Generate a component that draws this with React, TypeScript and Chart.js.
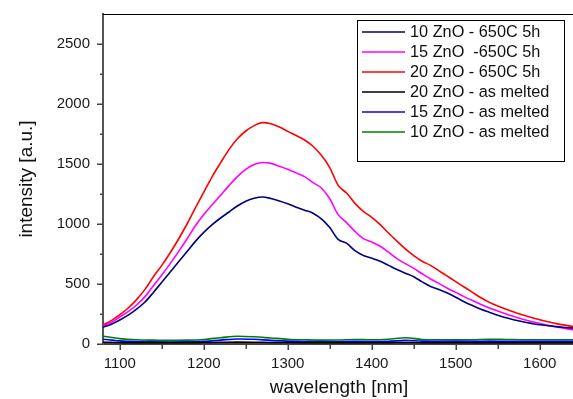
import React, { useEffect, useRef } from "react";
import { Chart, registerables } from "chart.js";

Chart.register(...registerables);

// x positions (nm) of the annealed series samples
const wavelengths = [
  1080, 1090, 1100, 1110, 1120, 1130, 1140, 1150, 1160, 1170,
  1180, 1190, 1200, 1210, 1220, 1230, 1240, 1250, 1260, 1270,
  1280, 1290, 1300, 1310, 1320, 1330, 1340, 1350, 1360, 1370,
  1380, 1390, 1400, 1410, 1420, 1430, 1440, 1450, 1460, 1470,
  1480, 1490, 1500, 1510, 1520, 1530, 1540, 1550, 1560, 1570,
  1580, 1590, 1600, 1610, 1620, 1630, 1640,
];

const zno10_650 = [
  140, 165, 200, 240, 290, 350, 430, 515, 600, 685,
  770, 855, 930, 995, 1050, 1100, 1150, 1190, 1215, 1225,
  1212, 1192, 1168, 1140, 1115, 1090, 1042, 970, 872, 840,
  778, 738, 715, 690, 655, 620, 590, 560, 518, 480,
  455, 425, 390, 352, 320, 290, 265, 240, 218, 200,
  185, 172, 160, 152, 145, 138, 132,
];

const zno15_650 = [
  150, 180, 225, 270, 325, 395, 485, 575, 670, 770,
  875, 985, 1080, 1160, 1240, 1320, 1395, 1455, 1495, 1512,
  1505, 1482, 1456, 1426, 1395, 1345, 1300, 1210, 1078, 1012,
  938, 878, 850, 815, 765, 712, 670, 630, 585, 542,
  505, 465, 430, 395, 362, 330, 300, 275, 250, 228,
  207, 188, 170, 155, 142, 130, 118,
];

const zno20_650 = [
  160, 195, 245, 300, 370, 455, 560, 655, 760, 875,
  1000, 1135, 1265, 1395, 1510, 1620, 1710, 1775, 1820, 1845,
  1835, 1808, 1772, 1737, 1700, 1648, 1572, 1470, 1322, 1258,
  1172, 1105, 1055, 995, 925, 857, 792, 737, 690, 655,
  610, 565, 520, 475, 430, 385, 347, 317, 290, 265,
  242, 220, 202, 185, 170, 157, 145,
];

// x positions (nm) of the as-melted series samples
const wavelengthsMelted = [
  1080, 1100, 1120, 1140, 1160, 1180, 1200, 1220, 1240, 1260,
  1280, 1300, 1320, 1340, 1360, 1380, 1400, 1420, 1440, 1460,
  1480, 1500, 1520, 1540, 1560, 1580, 1600, 1620, 1640,
];

const zno20_melted = [
  15, 12, 10, 10, 10, 10, 12, 14, 16, 15,
  13, 12, 11, 10, 10, 11, 10, 11, 13, 11,
  10, 10, 10, 11, 10, 10, 10, 10, 10,
];

const zno15_melted = [
  40, 26, 20, 18, 17, 18, 22, 32, 42, 40,
  30, 24, 20, 18, 19, 22, 20, 22, 30, 24,
  22, 22, 22, 24, 23, 22, 22, 22, 22,
];

const zno10_melted = [
  65, 45, 35, 32, 30, 32, 38, 52, 65, 60,
  50, 40, 35, 32, 33, 38, 35, 40, 52, 38,
  35, 34, 35, 40, 38, 36, 35, 36, 35,
];

const seriesLabels = [
  "10 ZnO - 650C 5h",
  "15 ZnO  -650C 5h",
  "20 ZnO - 650C 5h",
  "20 ZnO - as melted",
  "15 ZnO - as melted",
  "10 ZnO - as melted",
];
const seriesColors = ["#000080", "#ff00ff", "#ff0000", "#000000", "#0000ff", "#008000"];

const xTicks = [1100, 1200, 1300, 1400, 1500, 1600];
const xMinorTicks = [1150, 1250, 1350, 1450, 1550];
const yTicks = [0, 500, 1000, 1500, 2000, 2500];
const yMinorTicks = [250, 750, 1250, 1750, 2250];

const xTitle = "wavelength [nm]";
const yTitle = "intensity [a.u.]";

const FONT = "'Liberation Sans', Arial, Helvetica, sans-serif";

const pts = (xs: number[], ys: number[]) => xs.map((x, i) => ({ x, y: ys[i] }));

const framePlugin = {
  id: "frame",
  afterDraw(chart: any) {
    const { ctx, chartArea: ca, scales } = chart;
    const xs = scales.x;
    const ys = scales.y;
    ctx.save();
    // top and right frame
    ctx.strokeStyle = "#000";
    ctx.lineWidth = 1;
    ctx.beginPath();
    ctx.moveTo(ca.left, ca.top + 0.5);
    ctx.lineTo(ca.right, ca.top + 0.5);
    ctx.lineTo(ca.right, ca.bottom);
    ctx.stroke();
    // tick marks
    ctx.strokeStyle = "#444";
    ctx.lineWidth = 1.5;
    const drawX = (v: number, len: number) => {
      const px = Math.round(xs.getPixelForValue(v)) + 0.25;
      ctx.beginPath();
      ctx.moveTo(px, ca.bottom);
      ctx.lineTo(px, ca.bottom + len);
      ctx.stroke();
    };
    const drawY = (v: number, len: number) => {
      const py = Math.round(ys.getPixelForValue(v)) + 0.25;
      ctx.beginPath();
      ctx.moveTo(ca.left, py);
      ctx.lineTo(ca.left - len, py);
      ctx.stroke();
    };
    xTicks.forEach((v) => drawX(v, 6));
    xMinorTicks.forEach((v) => drawX(v, 5));
    yTicks.forEach((v) => drawY(v, 6));
    yMinorTicks.forEach((v) => drawY(v, 3));

    // legend
    const bx = 357.5, by = 20.5, bw = 207, bh = 141;
    ctx.fillStyle = "#fff";
    ctx.fillRect(bx, by, bw, bh);
    ctx.strokeStyle = "#000";
    ctx.lineWidth = 1;
    ctx.strokeRect(bx, by, bw, bh);
    ctx.font = `16.3px ${FONT}`;
    ctx.textBaseline = "middle";
    ctx.textAlign = "left";
    chart.data.datasets.forEach((ds: any, i: number) => {
      const yy = 32 + i * 20;
      ctx.strokeStyle = ds.borderColor;
      ctx.lineWidth = 1.5;
      ctx.beginPath();
      ctx.moveTo(362, yy);
      ctx.lineTo(405, yy);
      ctx.stroke();
      ctx.fillStyle = "#111";
      ctx.fillText(ds.label, 410, yy + 1);
    });
    ctx.restore();
  },
};

export default function App() {
  const ref = useRef<HTMLCanvasElement>(null);

  useEffect(() => {
    if (!ref.current) return;
    const seriesData = [
      pts(wavelengths, zno10_650),
      pts(wavelengths, zno15_650),
      pts(wavelengths, zno20_650),
      pts(wavelengthsMelted, zno20_melted),
      pts(wavelengthsMelted, zno15_melted),
      pts(wavelengthsMelted, zno10_melted),
    ];
    const chart = new Chart(ref.current, {
      type: "line",
      data: {
        datasets: seriesData.map((d, i) => ({
          label: seriesLabels[i],
          data: d,
          borderColor: seriesColors[i],
          backgroundColor: seriesColors[i],
          borderWidth: 1.6,
          pointRadius: 0,
          cubicInterpolationMode: "monotone" as const,
          fill: false,
        })),
      },
      options: {
        responsive: false,
        animation: false,
        layout: { padding: { top: 14, right: 5, left: 0, bottom: 0 } },
        plugins: { legend: { display: false }, tooltip: { enabled: false } },
        scales: {
          x: {
            type: "linear",
            min: 1080,
            max: 1642,
            afterFit: (s: any) => {
              s.height = 55;
              s.paddingLeft = 0;
              s.paddingRight = 0;
            },
            afterBuildTicks: (s: any) => {
              s.ticks = xTicks.map((v) => ({ value: v }));
            },
            grid: { display: false, drawTicks: false },
            border: { display: true, color: "#444", width: 2 },
            ticks: {
              padding: 11,
              color: "#1a1a1a",
              font: { size: 15, family: FONT },
              maxRotation: 0,
              autoSkip: false,
              callback: (v: any) => String(v),
            },
            title: {
              display: true,
              text: xTitle,
              color: "#111",
              font: { size: 19, family: FONT },
              padding: { top: 0, bottom: 0 },
            },
          },
          y: {
            type: "linear",
            min: 0,
            max: 2750,
            afterFit: (s: any) => {
              s.width = 103;
              s.paddingTop = 0;
              s.paddingBottom = 0;
            },
            afterBuildTicks: (s: any) => {
              s.ticks = yTicks.map((v) => ({ value: v }));
            },
            grid: { display: false, drawTicks: false },
            border: { display: true, color: "#555", width: 2 },
            ticks: {
              padding: 13,
              color: "#1a1a1a",
              font: { size: 15, family: FONT },
              autoSkip: false,
              callback: (v: any) => String(v),
            },
            title: {
              display: true,
              text: yTitle,
              color: "#111",
              font: { size: 19, family: FONT },
              padding: { top: 15, bottom: 0 },
            },
          },
        },
      },
      plugins: [framePlugin],
    });
    return () => chart.destroy();
  }, []);

  return (
    <div style={{ position: "fixed", left: 0, top: 0, width: 580, height: 399, background: "#fff" }}>
      <canvas ref={ref} width={580} height={399} />
    </div>
  );
}
